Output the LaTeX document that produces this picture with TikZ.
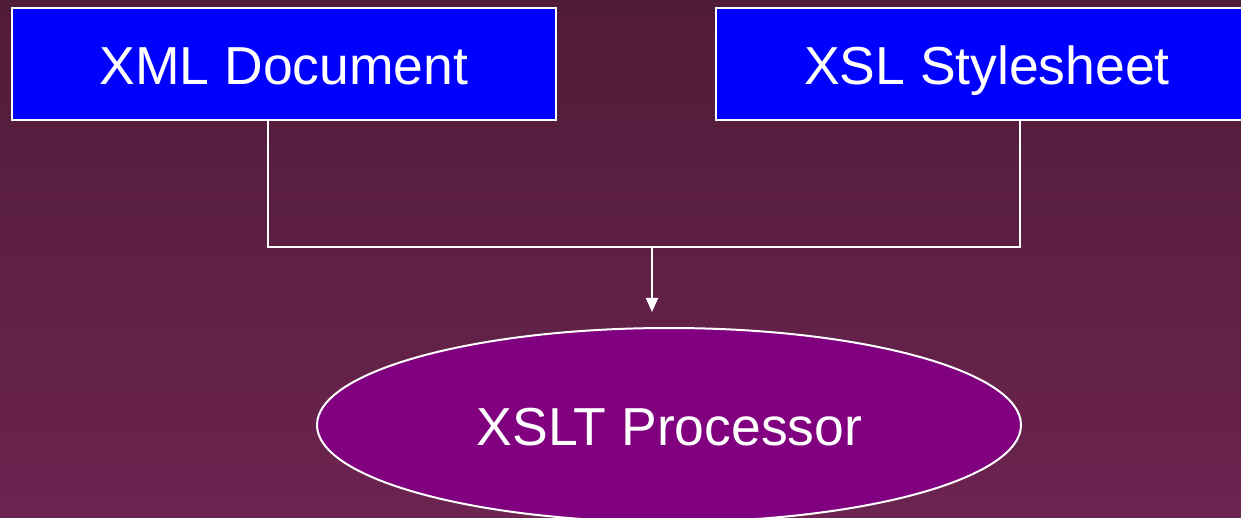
\documentclass[tikz,border=0pt]{standalone}
\usepackage{fontspec}
\setmainfont{Liberation Sans}
\usetikzlibrary{shapes.geometric,arrows.meta}
\definecolor{bgtop}{RGB}{80,27,56}
\definecolor{bgbot}{RGB}{108,36,80}
\definecolor{boxblue}{RGB}{0,0,255}
\definecolor{procpurple}{RGB}{128,0,128}
\tikzset{
  docbox/.style={draw=white, line width=1.6pt, fill=boxblue, minimum width=544pt, minimum height=112pt, inner sep=0pt},
  label/.style={text=white, font=\fontsize{53.5}{60}\selectfont, inner sep=0pt, anchor=base},
  procell/.style={ellipse, draw=white, line width=2pt, fill=procpurple, minimum width=704pt, minimum height=194pt, inner sep=0pt},
  wire/.style={draw=white, line width=1.8pt},
  arrowwire/.style={wire, -{Triangle[width=12pt,length=14pt]}}
}
\begin{document}
\begin{tikzpicture}[x=1pt,y=1pt]
\useasboundingbox (0,0) rectangle (1241,-518);
\clip (0,0) rectangle (1241,-518);
\shade[top color=bgtop, bottom color=bgbot] (0,0) rectangle (1241,-518);
\node[docbox] (xml) at (284,-64) {};
\node[docbox] (xsl) at (988,-64) {};
\node[label] (xmlt) at (284,-85) {XML Document};
\node[label] (xslt) at (987,-85) {XSL Stylesheet};
\node[procell] (proc) at (669,-425) {};
\node[label] (proct) at (669.5,-445) {XSLT Processor};
\coordinate (jl) at (268,-247);
\coordinate (jr) at (1020,-247);
\coordinate (jm) at (652,-247);
\coordinate (tip) at (652,-312);
\draw[wire] (xml.south -| jl) -- (jl) -- (jr) -- (xsl.south -| jr);
\draw[arrowwire] (jm) -- (tip);
\end{tikzpicture}
\end{document}
